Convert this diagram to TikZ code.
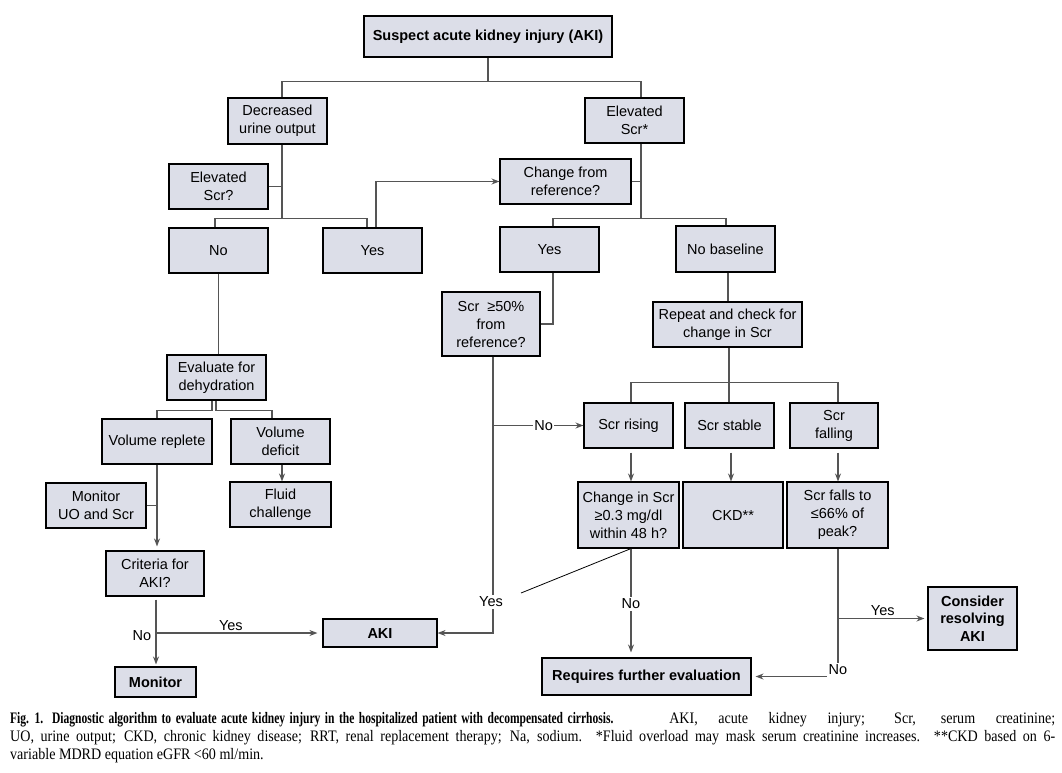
\documentclass[tikz,border=0pt]{standalone}
\usepackage{fontspec}
\setmainfont{Liberation Sans}
\newfontfamily\capfont{Liberation Serif}[FakeStretch=0.88,BoldFeatures={FakeStretch=0.72}]
\usetikzlibrary{arrows.meta}
\definecolor{boxfill}{RGB}{220,222,232}
\definecolor{linegray}{RGB}{85,85,85}

\begin{document}
\begin{tikzpicture}[x=1pt,y=-1pt]
	\tikzset{box/.style={draw=black,line width=1.1pt,fill=boxfill,align=center,inner sep=1pt,font=\fontsize{14.5}{18}\selectfont}}
	\tikzset{bbox/.style={box,font=\fontsize{14.5}{17.5}\selectfont\bfseries}}
	\tikzset{sz/.style 2 args={minimum width=#1pt,minimum height=#2pt}}
	\tikzset{conn/.style={draw=linegray,line width=1.2pt}}
	\tikzset{arr/.style={conn,-{Stealth[length=8pt,width=6pt]}}}
	\tikzset{lbl/.style={font=\fontsize{14.5}{18}\selectfont,inner sep=2pt}}

	\useasboundingbox (0,0) rectangle (1062,772);

	\node[bbox,sz={248}{41}] (susp) at (488,36.5) {Suspect acute kidney injury (AKI)};
	\node[box,sz={99}{46}] (decuo) at (277.5,121) {Decreased\\urine output};
	\node[box,sz={99}{45}] (elevscr) at (634.5,120.5) {Elevated\\Scr*};
	\node[box,sz={99}{45}] (elevq) at (218.5,186.5) {Elevated\\Scr?};
	\node[box,sz={131}{45}] (chgref) at (565.5,181.5) {Change from\\reference?};
	\node[box,sz={99}{45}] (nol) at (218.5,250.5) {No};
	\node[box,sz={99}{45}] (yesl) at (372.5,250.5) {Yes};
	\node[box,sz={99}{45}] (yesr) at (549.5,249.5) {Yes};
	\node[box,sz={99}{46}] (nobase) at (725.5,249) {No baseline};
	\node[box,sz={98}{64}] (scrhalf) at (491,324) {Scr \ ≥50\%\\from\\reference?};
	\node[box,sz={149}{45}] (repeat) at (727.5,324.5) {Repeat and check for\\change in Scr};
	\node[box,sz={99}{45}] (evaldh) at (216.5,377.5) {Evaluate for\\dehydration};
	\node[box,sz={110}{45}] (volrep) at (157,441.5) {Volume replete};
	\node[box,sz={99}{45}] (voldef) at (280.5,441.5) {Volume\\deficit};
	\node[box,sz={89}{45}] (rise) at (628.5,425.5) {Scr rising};
	\node[box,sz={89}{45}] (stable) at (729.5,425.5) {Scr stable};
	\node[box,sz={88}{45}] (fall) at (834,425.5) {Scr\\falling};
	\node[box,sz={100}{45}] (monuo) at (96,505.5) {Monitor\\UO and Scr};
	\node[box,sz={101}{45}] (fluid) at (280.5,504.5) {Fluid\\challenge};
	\node[box,sz={101}{66}] (chgscr) at (628.5,515) {Change in Scr\\≥0.3 mg/dl\\within 48 h?};
	\node[box,sz={100}{66}] (ckd) at (733,515) {CKD**};
	\node[box,sz={101}{66}] (falls) at (837.5,515) {Scr falls to\\≤66\% of\\peak?};
	\node[box,sz={98}{45}] (crit) at (155,573.5) {Criteria for\\AKI?};
	\node[bbox,sz={114}{28}] (aki) at (380,633) {AKI};
	\node[bbox,sz={89}{63}] (consider) at (972.5,618.5) {Consider\\resolving\\AKI};
	\node[bbox,sz={209}{37}] (further) at (646.5,676.5) {Requires further evaluation};
	\node[bbox,sz={81}{30}] (monitor) at (155.5,682) {Monitor};

	\node[lbl,fill=white] (yeshalf) at (491,602) {Yes};
	\node[lbl] (nochg) at (631,604) {No};
	\node[lbl] (nofall) at (838,670) {No};
	\node[lbl] (nocrit) at (142,636) {No};
	\coordinate (dg) at (521,593);

	\draw[conn] (susp.south) -- ++(0,24) coordinate (j1);
	\draw[conn] ([xshift=4.5pt]decuo.north) |- (j1) -| ([xshift=6.5pt]elevscr.north);

	\draw[conn] ([xshift=4.5pt]decuo.south) -- ++(0,74) coordinate (j2);
	\draw[conn] (elevq.east) -- (elevq.east -| j2);
	\draw[conn] ([xshift=-3.5pt]nol.north) |- (j2) -| ([xshift=-5.5pt]yesl.north);
	\draw[arr] ([xshift=3.5pt]yesl.north) |- (chgref.west);

	\draw[conn] ([xshift=6.5pt]elevscr.south) -- ++(0,75) coordinate (j3);
	\draw[conn] (chgref.east) -- (chgref.east -| j3);
	\draw[conn] ([xshift=3.5pt]yesr.north) |- (j3) -| ([xshift=0.5pt]nobase.north);
	\draw[conn] ([xshift=2.5pt]nobase.south) -- ([xshift=2.5pt]nobase.south |- repeat.north);
	\draw[conn] ([xshift=3.5pt]yesr.south) |- (scrhalf.east);

	\draw[conn] ([xshift=1.5pt]repeat.south) -- ++(0,35) coordinate (j4);
	\draw[conn] (j4) -- (j4 |- stable.north);
	\draw[conn] ([xshift=2.5pt]rise.north) |- (j4) -| ([xshift=4pt]fall.north);
	\foreach \a/\b/\s in {rise/chgscr/2.5,stable/ckd/1.5,fall/falls/4}
		\draw[arr,shorten <=4pt] ([xshift=\s pt]\a.south) -- ([xshift=\s pt]\a.south |- \b.north);

	\draw[conn] ([xshift=2pt]scrhalf.south) -- ([xshift=2pt]scrhalf.south |- yeshalf.north);
	\draw[arr] ([xshift=2pt]scrhalf.south |- yeshalf.south) |- (aki.east);
	\draw[arr] ([xshift=2pt]scrhalf.south |- rise.west) -- node[lbl,fill=white,inner sep=1pt,pos=0.56]{No} (rise.west);
	\draw[conn,draw=black,line width=0.8pt] ([xshift=2.5pt]chgscr.south) -- (dg);

	\draw[conn] ([xshift=2.5pt]chgscr.south) -- (nochg.north);
	\draw[arr,shorten >=5pt] (nochg.south) -- (nochg.south |- further.north);
	\draw[conn] ([xshift=0.5pt]falls.south) -- (nofall.north);
	\draw[arr,shorten >=4pt] (nofall.west |- further.east) -- (further.east);
	\draw[arr,shorten >=3pt] ([xshift=0.5pt]falls.south |- consider.west) -- node[lbl,above]{Yes} (consider.west);

	\draw[conn] (nol.south) -- (nol.south |- evaldh.north);
	\draw[conn] ([xshift=-4.5pt]evaldh.south) -- ++(0,10) -| (volrep.north);
	\draw[conn] ([xshift=-0.5pt]evaldh.south) -- ++(0,10) -| ([xshift=-8.5pt]voldef.north);
	\draw[arr] ([xshift=1.5pt]voldef.south) -- ([xshift=1.5pt]voldef.south |- fluid.north);
	\draw[arr,shorten >=4pt] (volrep.south) -- (volrep.south |- crit.north);
	\draw[conn] (monuo.east) -- (monuo.east -| volrep.south);
	\draw[arr,shorten <=3pt,shorten >=2pt] ([xshift=1pt]crit.south) -- ([xshift=1pt]crit.south |- monitor.north);
	\draw[arr,shorten >=5pt] ([xshift=1pt]crit.south |- aki.west) -- node[lbl,above,pos=0.45]{Yes} (aki.west);

	\node[anchor=north west,text width=1045pt,align=justify,inner sep=0pt,font=\capfont\fontsize{16}{18}\selectfont] (cap) at (10,712)
		{{\spaceskip=4.5pt\relax\textbf{Fig. 1.\ \ Diagnostic algorithm to evaluate acute kidney injury in the hospitalized patient with decompensated cirrhosis.}} AKI, acute kidney injury; Scr, serum creatinine;\linebreak
		UO, urine output; CKD, chronic kidney disease; RRT, renal replacement therapy; Na, sodium. *Fluid overload may mask serum creatinine increases. **CKD based on 6-\linebreak
		variable MDRD equation eGFR <60 ml/min.};
\end{tikzpicture}
\end{document}
